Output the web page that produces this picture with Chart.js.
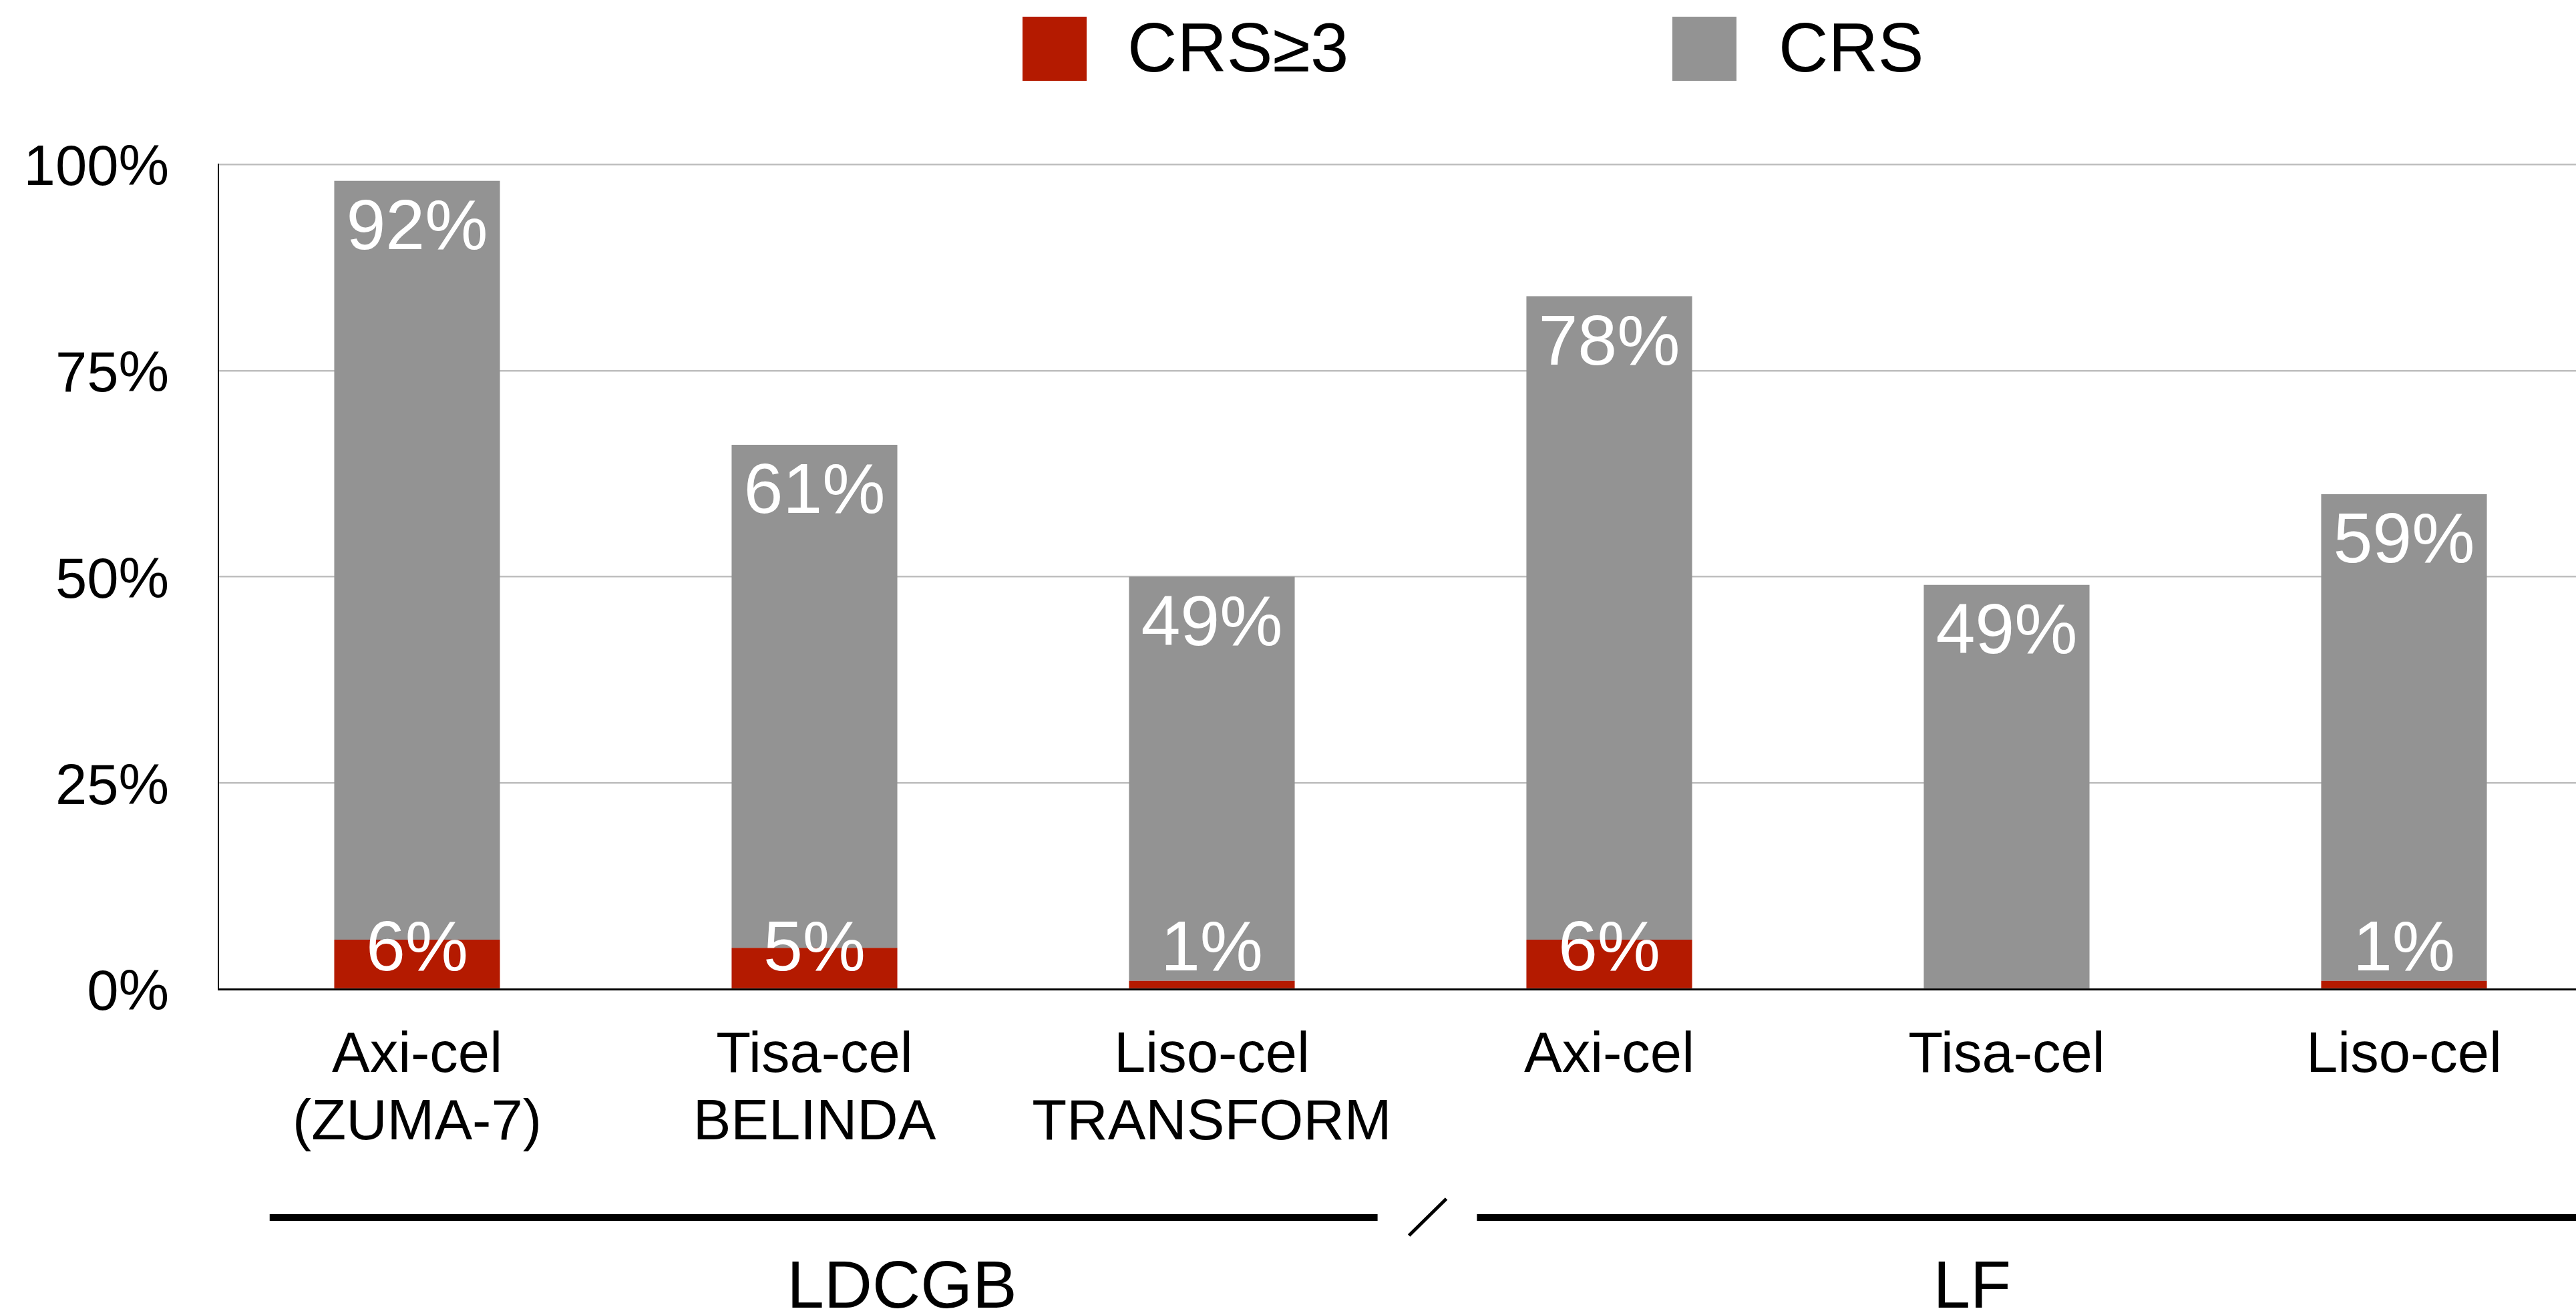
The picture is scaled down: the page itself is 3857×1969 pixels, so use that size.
<!DOCTYPE html>
<html>
<head>
<meta charset="utf-8">
<script src="https://cdn.jsdelivr.net/npm/chart.js@4.4.1/dist/chart.umd.min.js"></script>
<style>
  html, body { margin: 0; padding: 0; overflow: hidden; background: #fff; }
  canvas { display: block; }
</style>
</head>
<body>
<canvas id="myChart" width="3897" height="1969"></canvas>
<script>
const categories = [['Axi-cel', '(ZUMA-7)'], ['Tisa-cel', 'BELINDA'], ['Liso-cel', 'TRANSFORM'], 'Axi-cel', 'Tisa-cel', 'Liso-cel'];
const crsGrade3 = [6, 5, 1, 6, 0, 1];
const crsAny = [92, 61, 49, 78, 49, 59];
const yTicks = [0, 25, 50, 75, 100];
const groupLabels = ['LDCGB', 'LF'];

const RED = '#B41A00';
const GREY = '#939393';
const FONT = "'Liberation Sans', Arial, Helvetica, sans-serif";

// value labels inside the bars
const barLabels = {
    id: 'barLabels',
    afterDatasetsDraw(chart) {
        const ctx = chart.ctx;
        ctx.save();
        ctx.fillStyle = '#fff';
        ctx.font = '106px ' + FONT;
        ctx.textAlign = 'center';
        ctx.textBaseline = 'middle';
        chart.data.datasets.forEach((ds, i) => {
            chart.getDatasetMeta(i).data.forEach((bar, j) => {
                const v = ds.data[j];
                if (!v) return;
                const y = i === 0 ? bar.base - 56 : bar.y + 73;
                ctx.fillText(v + '%', bar.x, y);
            });
        });
        ctx.restore();
    }
};

// legend at top + group brackets under the axis
const extras = {
    id: 'extras',
    afterDraw(chart) {
        const ctx = chart.ctx;
        const x = chart.scales.x;
        const area = chart.chartArea;
        const s = x.getPixelForValue(1) - x.getPixelForValue(0);
        const c = (i) => x.getPixelForValue(i);
        ctx.save();

        // legend
        const items = [
            { label: chart.data.datasets[0].label, color: RED, bx: 1531, tx: 1688 },
            { label: chart.data.datasets[1].label, color: GREY, bx: 2504, tx: 2663 }
        ];
        ctx.font = '103px ' + FONT;
        ctx.textBaseline = 'middle';
        ctx.textAlign = 'left';
        items.forEach(it => {
            ctx.fillStyle = it.color;
            ctx.fillRect(it.bx, 25, 96, 96);
            ctx.fillStyle = '#000';
            ctx.fillText(it.label, it.tx, 79);
        });

        // group lines
        const ly = area.bottom + 342;
        ctx.strokeStyle = '#000';
        ctx.lineWidth = 10;
        ctx.beginPath();
        ctx.moveTo(c(0) - 0.371 * s, ly);
        ctx.lineTo(c(2) + 0.417 * s, ly);
        ctx.moveTo(c(3) - 0.333 * s, ly);
        ctx.lineTo(chart.width, ly);
        ctx.stroke();

        ctx.lineWidth = 5;
        ctx.beginPath();
        ctx.moveTo(c(2) + 0.496 * s, area.bottom + 369);
        ctx.lineTo(c(2) + 0.590 * s, area.bottom + 314);
        ctx.stroke();

        ctx.fillStyle = '#000';
        ctx.font = '100px ' + FONT;
        ctx.textAlign = 'center';
        ctx.fillText(groupLabels[0], c(1) + 0.22 * s, area.bottom + 449);
        ctx.fillText(groupLabels[1], c(4) - 0.087 * s, area.bottom + 449);
        ctx.restore();
    }
};

new Chart(document.getElementById('myChart'), {
    type: 'bar',
    data: {
        labels: categories,
        datasets: [
            {
                label: 'CRS≥3',
                data: crsGrade3,
                backgroundColor: RED,
                barPercentage: 0.417,
                categoryPercentage: 1
            },
            {
                label: 'CRS',
                data: crsAny,
                backgroundColor: GREY,
                barPercentage: 0.417,
                categoryPercentage: 1
            }
        ]
    },
    options: {
        responsive: false,
        animation: false,
        layout: { padding: { top: 246, left: 0, right: 0, bottom: 0 } },
        plugins: {
            legend: { display: false },
            tooltip: { enabled: false }
        },
        scales: {
            x: {
                stacked: true,
                grid: { display: false, drawTicks: false },
                border: { color: '#000', width: 3, z: 1 },
                ticks: {
                    color: '#000',
                    padding: 50,
                    maxRotation: 0,
                    font: { family: FONT, size: 85, lineHeight: 1.19 }
                },
                afterFit(scale) { scale.height = 488; }
            },
            y: {
                stacked: true,
                min: 0,
                max: 100,
                afterBuildTicks(scale) {
                    scale.ticks = yTicks.map(v => ({ value: v }));
                },
                grid: { color: '#BEBEBE', lineWidth: 2.5, drawTicks: false },
                border: { color: '#000', width: 2 },
                ticks: {
                    color: '#000',
                    padding: 74,
                    labelOffset: 8,
                    font: { family: FONT, size: 85 },
                    callback: (v) => v + '%'
                },
                afterFit(scale) { scale.width = 327; }
            }
        }
    },
    plugins: [barLabels, extras]
});
</script>
</body>
</html>
